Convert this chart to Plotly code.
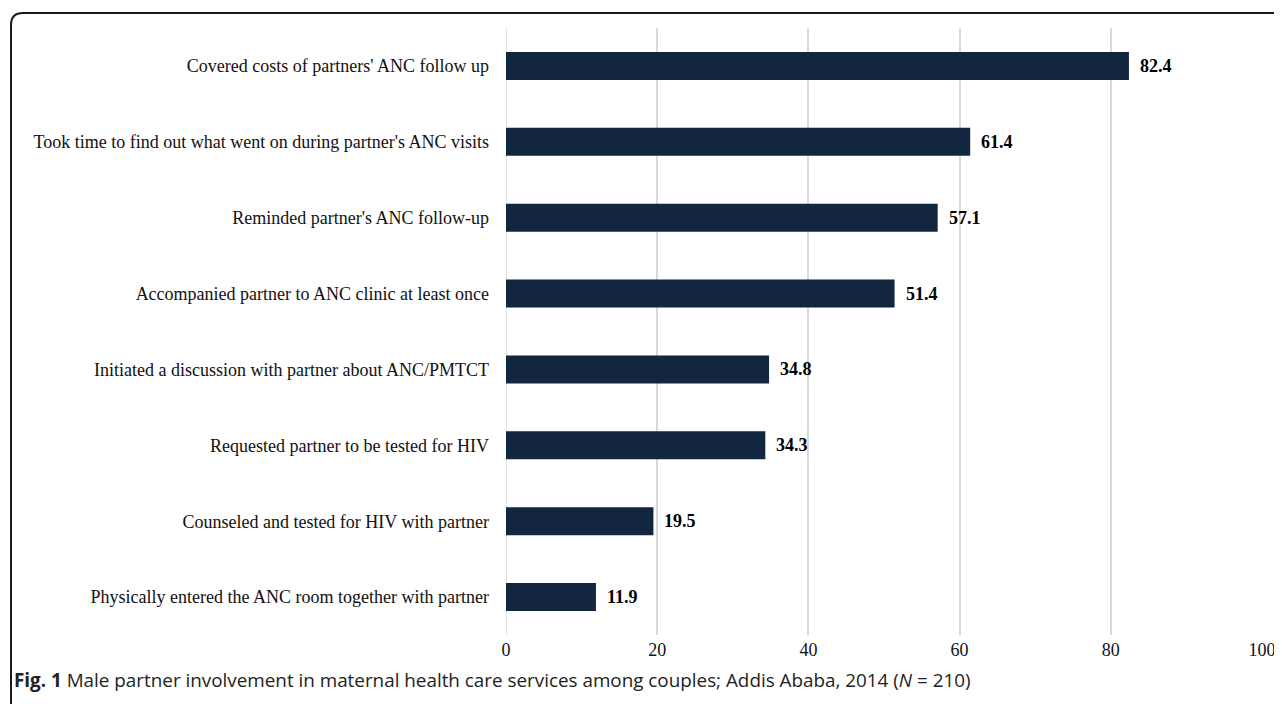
import plotly.graph_objects as go

categories = [
    "Covered costs of partners' ANC follow up",
    "Took time to find out what went on during partner's ANC visits",
    "Reminded partner's ANC follow-up",
    "Accompanied partner to ANC clinic at least once",
    "Initiated a discussion with partner about ANC/PMTCT",
    "Requested partner to be tested for HIV",
    "Counseled and tested for HIV with partner",
    "Physically entered the ANC room together with partner",
]
values = [82.4, 61.4, 57.1, 51.4, 34.8, 34.3, 19.5, 11.9]
x_ticks = [0, 20, 40, 60, 80, 100]

# page body has an 8px default margin; compensate
OFF = 8
W, H = 1282 - OFF, 704 - OFF
ml, mr, mt, mb = 506 - OFF, 20, 28 - OFF, 69
pw, ph = W - ml - mr, H - mt - mb

serif = "Liberation Serif, Times New Roman, serif"

fig = go.Figure()
fig.add_trace(go.Bar(
    y=categories, x=values, orientation="h",
    marker=dict(color="#132640", line=dict(width=0)),
    width=0.37,
    hoverinfo="skip",
))

for c, v in zip(categories, values):
    fig.add_annotation(x=v, y=c, text=f"<b>{v:.1f}</b>", showarrow=False,
                       xanchor="left", xshift=9,
                       font=dict(family=serif, size=18, color="#000"))

def px_to_paper_x(px):
    return (px - OFF - ml) / pw

def px_to_paper_y(py):
    return (H - mb - (py - OFF)) / ph

# frame with rounded top-left corner
xl, yt, r = 11, 13, 12
path = (f"M {px_to_paper_x(xl)},{px_to_paper_y(720)} "
        f"L {px_to_paper_x(xl)},{px_to_paper_y(yt + r)} "
        f"Q {px_to_paper_x(xl)},{px_to_paper_y(yt)} {px_to_paper_x(xl + r)},{px_to_paper_y(yt)} "
        f"L {px_to_paper_x(1300)},{px_to_paper_y(yt)}")
fig.add_shape(type="path", path=path, xref="paper", yref="paper",
              line=dict(color="#1a1a1a", width=2))

fig.add_annotation(
    text="<b>Fig. 1</b> Male partner involvement in maternal health care services among couples; Addis Ababa, 2014 (<i>N</i> = 210)",
    xref="paper", yref="paper", x=px_to_paper_x(12), y=px_to_paper_y(680),
    xanchor="left", yanchor="middle", showarrow=False,
    font=dict(family="Open Sans, Noto Sans, sans-serif", size=18.85, color="#222"),
)

fig.update_layout(
    width=W, height=H,
    margin=dict(l=ml, r=mr, t=mt, b=mb, pad=0, autoexpand=False),
    paper_bgcolor="white", plot_bgcolor="white",
    showlegend=False,
    bargap=0.63,
    xaxis=dict(range=[0, 100], tickvals=x_ticks, showgrid=True, automargin=False,
               gridcolor="#D9D9D9", gridwidth=1.5, zeroline=False,
               showline=False, ticks="", ticklabelstandoff=2,
               tickfont=dict(family=serif, size=18, color="#111")),
    yaxis=dict(categoryorder="array", categoryarray=categories[::-1], automargin=False,
               showgrid=False, zeroline=False, showline=False, ticks="",
               ticklabelstandoff=16,
               tickfont=dict(family=serif, size=18, color="#111")),
)
fig.add_vline(x=0, line=dict(color="#D9D9D9", width=1.5), layer="below")

fig.write_html("out.html")
